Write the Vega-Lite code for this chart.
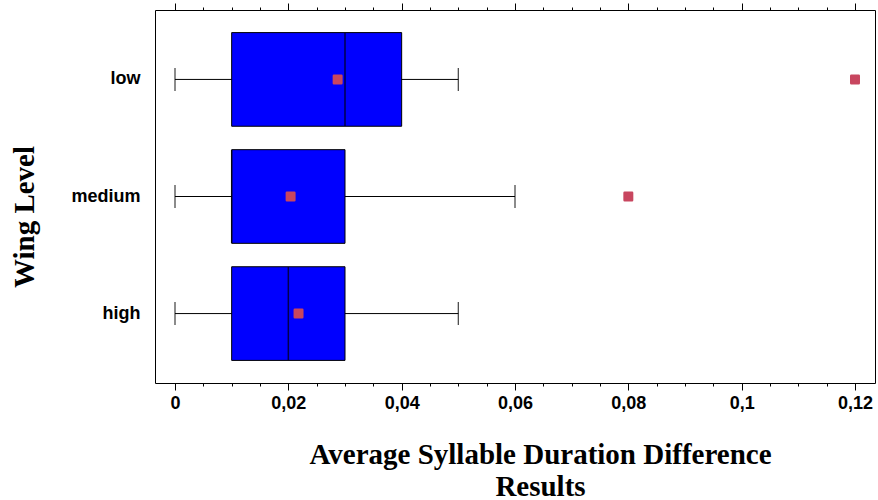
{
  "$schema": "https://vega.github.io/schema/vega-lite/v6.json",
  "autosize": {"type": "none"},
  "width": 720,
  "height": 373,
  "padding": {"left": 155, "top": 10, "right": 3, "bottom": 117},
  "background": "white",
  "config": {
    "view": {"stroke": "black", "strokeWidth": 1},
    "axis": {
      "labelFont": "Liberation Sans",
      "labelFontWeight": "bold",
      "labelFontSize": 18,
      "labelColor": "black",
      "titleFont": "Liberation Serif",
      "titleFontWeight": "bold",
      "titleFontSize": 29,
      "titleColor": "black",
      "grid": false
    }
  },
  "data": {
    "values": [
      {"level": "low", "min": 0, "q1": 0.01, "median": 0.03, "q3": 0.04, "max": 0.05, "mean": 0.0287},
      {"level": "medium", "min": 0, "q1": 0.01, "median": 0.01, "q3": 0.03, "max": 0.06, "mean": 0.0204},
      {"level": "high", "min": 0, "q1": 0.01, "median": 0.02, "q3": 0.03, "max": 0.05, "mean": 0.0218}
    ]
  },
  "encoding": {
    "y": {
      "field": "level",
      "type": "nominal",
      "sort": ["low", "medium", "high"],
      "scale": {"paddingInner": 0.2, "paddingOuter": 0.193},
      "axis": {
        "title": "Wing Level",
        "ticks": false,
        "domain": false,
        "labelPadding": 15,
        "titleAngle": -90,
        "titleX": -122,
        "titleY": 206.5,
        "titleAlign": "center",
        "titleBaseline": "alphabetic"
      }
    }
  },
  "resolve": {"axis": {"x": "independent"}},
  "layer": [
    {
      "mark": {"type": "rule", "color": "black", "strokeWidth": 1},
      "encoding": {
        "x": {
          "field": "min", "type": "quantitative",
          "scale": {"domain": [-0.00353, 0.12353], "nice": false, "zero": false},
          "axis": {
            "orient": "top", "title": null, "labels": false, "ticks": true, "domain": false,
            "values": [0.005, 0.01, 0.015, 0.025, 0.03, 0.035, 0.045, 0.05, 0.055, 0.065, 0.07, 0.075, 0.085, 0.09, 0.095, 0.105, 0.11, 0.115],
            "tickSize": 3, "tickWidth": 1, "tickColor": "black"
          }
        },
        "x2": {"field": "max"}
      }
    },
    {
      "mark": {"type": "bar", "fill": "#0000ff", "stroke": "black", "strokeWidth": 1},
      "encoding": {
        "x": {
          "field": "q1", "type": "quantitative",
          "scale": {"domain": [-0.00353, 0.12353], "nice": false, "zero": false},
          "axis": {
            "orient": "bottom",
            "title": ["Average Syllable Duration Difference", "Results"],
            "values": [0, 0.02, 0.04, 0.06, 0.08, 0.1, 0.12],
            "labelExpr": "replace(format(datum.value, '~g'), '.', ',')",
            "ticks": true,
            "domain": false,
            "tickSize": 7, "tickWidth": 1, "tickColor": "black",
            "labelPadding": 4,
            "labelFlush": false,
            "titleX": 385,
            "titleY": 80,
            "titleAlign": "center",
            "titleBaseline": "alphabetic",
            "titleLineHeight": 32
          }
        },
        "x2": {"field": "q3"}
      }
    },
    {
      "mark": {"type": "tick", "color": "black", "thickness": 1.5, "size": 93},
      "encoding": {
        "x": {
          "field": "median", "type": "quantitative",
          "scale": {"domain": [-0.00353, 0.12353], "nice": false, "zero": false},
          "axis": {
            "orient": "top", "title": null, "labels": false, "ticks": true, "domain": false,
            "values": [0, 0.02, 0.04, 0.06, 0.08, 0.1, 0.12],
            "tickSize": 7, "tickWidth": 1, "tickColor": "black"
          }
        }
      }
    },
    {
      "mark": {"type": "tick", "color": "black", "thickness": 1.3, "size": 23},
      "encoding": {
        "x": {
          "field": "min", "type": "quantitative",
          "scale": {"domain": [-0.00353, 0.12353], "nice": false, "zero": false},
          "axis": {
            "orient": "bottom", "title": null, "labels": false, "ticks": true, "domain": false,
            "values": [0.005, 0.01, 0.015, 0.025, 0.03, 0.035, 0.045, 0.05, 0.055, 0.065, 0.07, 0.075, 0.085, 0.09, 0.095, 0.105, 0.11, 0.115],
            "tickSize": 3, "tickWidth": 1, "tickColor": "black"
          }
        }
      }
    },
    {
      "mark": {"type": "tick", "color": "black", "thickness": 1.3, "size": 23},
      "encoding": {
        "x": {
          "field": "max", "type": "quantitative",
          "scale": {"domain": [-0.00353, 0.12353], "nice": false, "zero": false},
          "axis": null
        }
      }
    },
    {
      "mark": {"type": "point", "shape": "square", "filled": true, "size": 56, "color": "#c8465f", "stroke": "#c8465f", "strokeWidth": 2.5, "strokeJoin": "round", "opacity": 1},
      "encoding": {
        "x": {
          "field": "mean", "type": "quantitative",
          "scale": {"domain": [-0.00353, 0.12353], "nice": false, "zero": false},
          "axis": null
        }
      }
    },
    {
      "data": {
        "values": [
          {"level": "low", "value": 0.12},
          {"level": "medium", "value": 0.08}
        ]
      },
      "mark": {"type": "point", "shape": "square", "filled": true, "size": 56, "color": "#c8465f", "stroke": "#c8465f", "strokeWidth": 2.5, "strokeJoin": "round", "opacity": 1},
      "encoding": {
        "x": {
          "field": "value", "type": "quantitative",
          "scale": {"domain": [-0.00353, 0.12353], "nice": false, "zero": false},
          "axis": null
        }
      }
    }
  ]
}
